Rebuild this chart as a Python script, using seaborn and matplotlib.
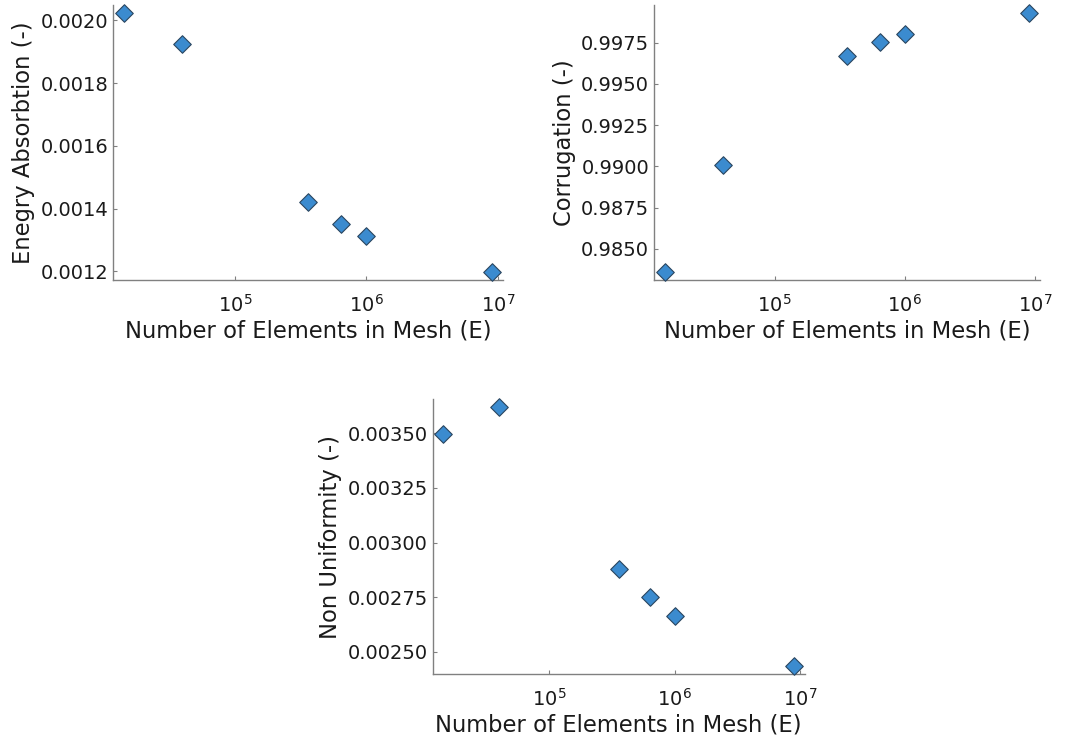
import matplotlib
matplotlib.use("Agg")
import matplotlib.pyplot as plt
import matplotlib.ticker as mticker
import seaborn as sns
import pandas as pd

elements = [14400, 40000, 360000, 640000, 1000000, 9000000]
energy_absorption = [0.002024, 0.001925, 0.001421, 0.001352, 0.001311, 0.001197]
corrugation = [0.98358, 0.99006, 0.99669, 0.99754, 0.99802, 0.99932]
non_uniformity = [0.003497, 0.003621, 0.002877, 0.002750, 0.002666, 0.002434]

xlabel = "Number of Elements in Mesh (E)"
ylabels = ["Enegry Absorbtion (-)", "Corrugation (-)", "Non Uniformity (-)"]

sns.set_style("ticks")
plt.rcParams["font.family"] = ["DejaVu Sans"]

fig = plt.figure(figsize=(10.68, 7.38), dpi=100)
positions = [
    [0.1058, 0.6206, 0.3652, 0.3726],
    [0.6124, 0.6206, 0.3614, 0.3726],
    [0.4051, 0.0867, 0.3486, 0.3726],
]
series = [energy_absorption, corrugation, non_uniformity]
formats = ["%.4f", "%.4f", "%.5f"]
steps = [0.0002, 0.0025, 0.00025]

for pos, vals, lab, fmt, st in zip(positions, series, ylabels, formats, steps):
    ax = fig.add_axes(pos)
    df = pd.DataFrame({"E": elements, "v": vals})
    sns.scatterplot(data=df, x="E", y="v", marker="D", s=80, color="#3b8bcf",
                    edgecolor="#2b4660", linewidth=0.8, ax=ax, zorder=3, clip_on=False)
    ax.set_xscale("log")
    ax.margins(0.03)
    ax.xaxis.set_major_locator(mticker.LogLocator(base=10, numticks=10))
    ax.xaxis.set_minor_locator(mticker.NullLocator())
    ax.yaxis.set_major_locator(mticker.MultipleLocator(st))
    ax.yaxis.set_major_formatter(mticker.FormatStrFormatter(fmt))
    ax.set_xlabel(xlabel, fontsize=16.3, color="#1a1a1a", labelpad=2.5)
    ax.set_ylabel(lab, fontsize=16.3, color="#1a1a1a", labelpad=4)
    ax.tick_params(direction="in", length=3, width=0.8, color="#808080",
                   labelsize=14, labelcolor="#1a1a1a")
    ax.tick_params(axis="x", pad=10)
    for sp in ["top", "right"]:
        ax.spines[sp].set_visible(False)
    for sp in ["left", "bottom"]:
        ax.spines[sp].set_color("#808080")
        ax.spines[sp].set_linewidth(1.0)

fig.savefig("out.png", dpi=100)
